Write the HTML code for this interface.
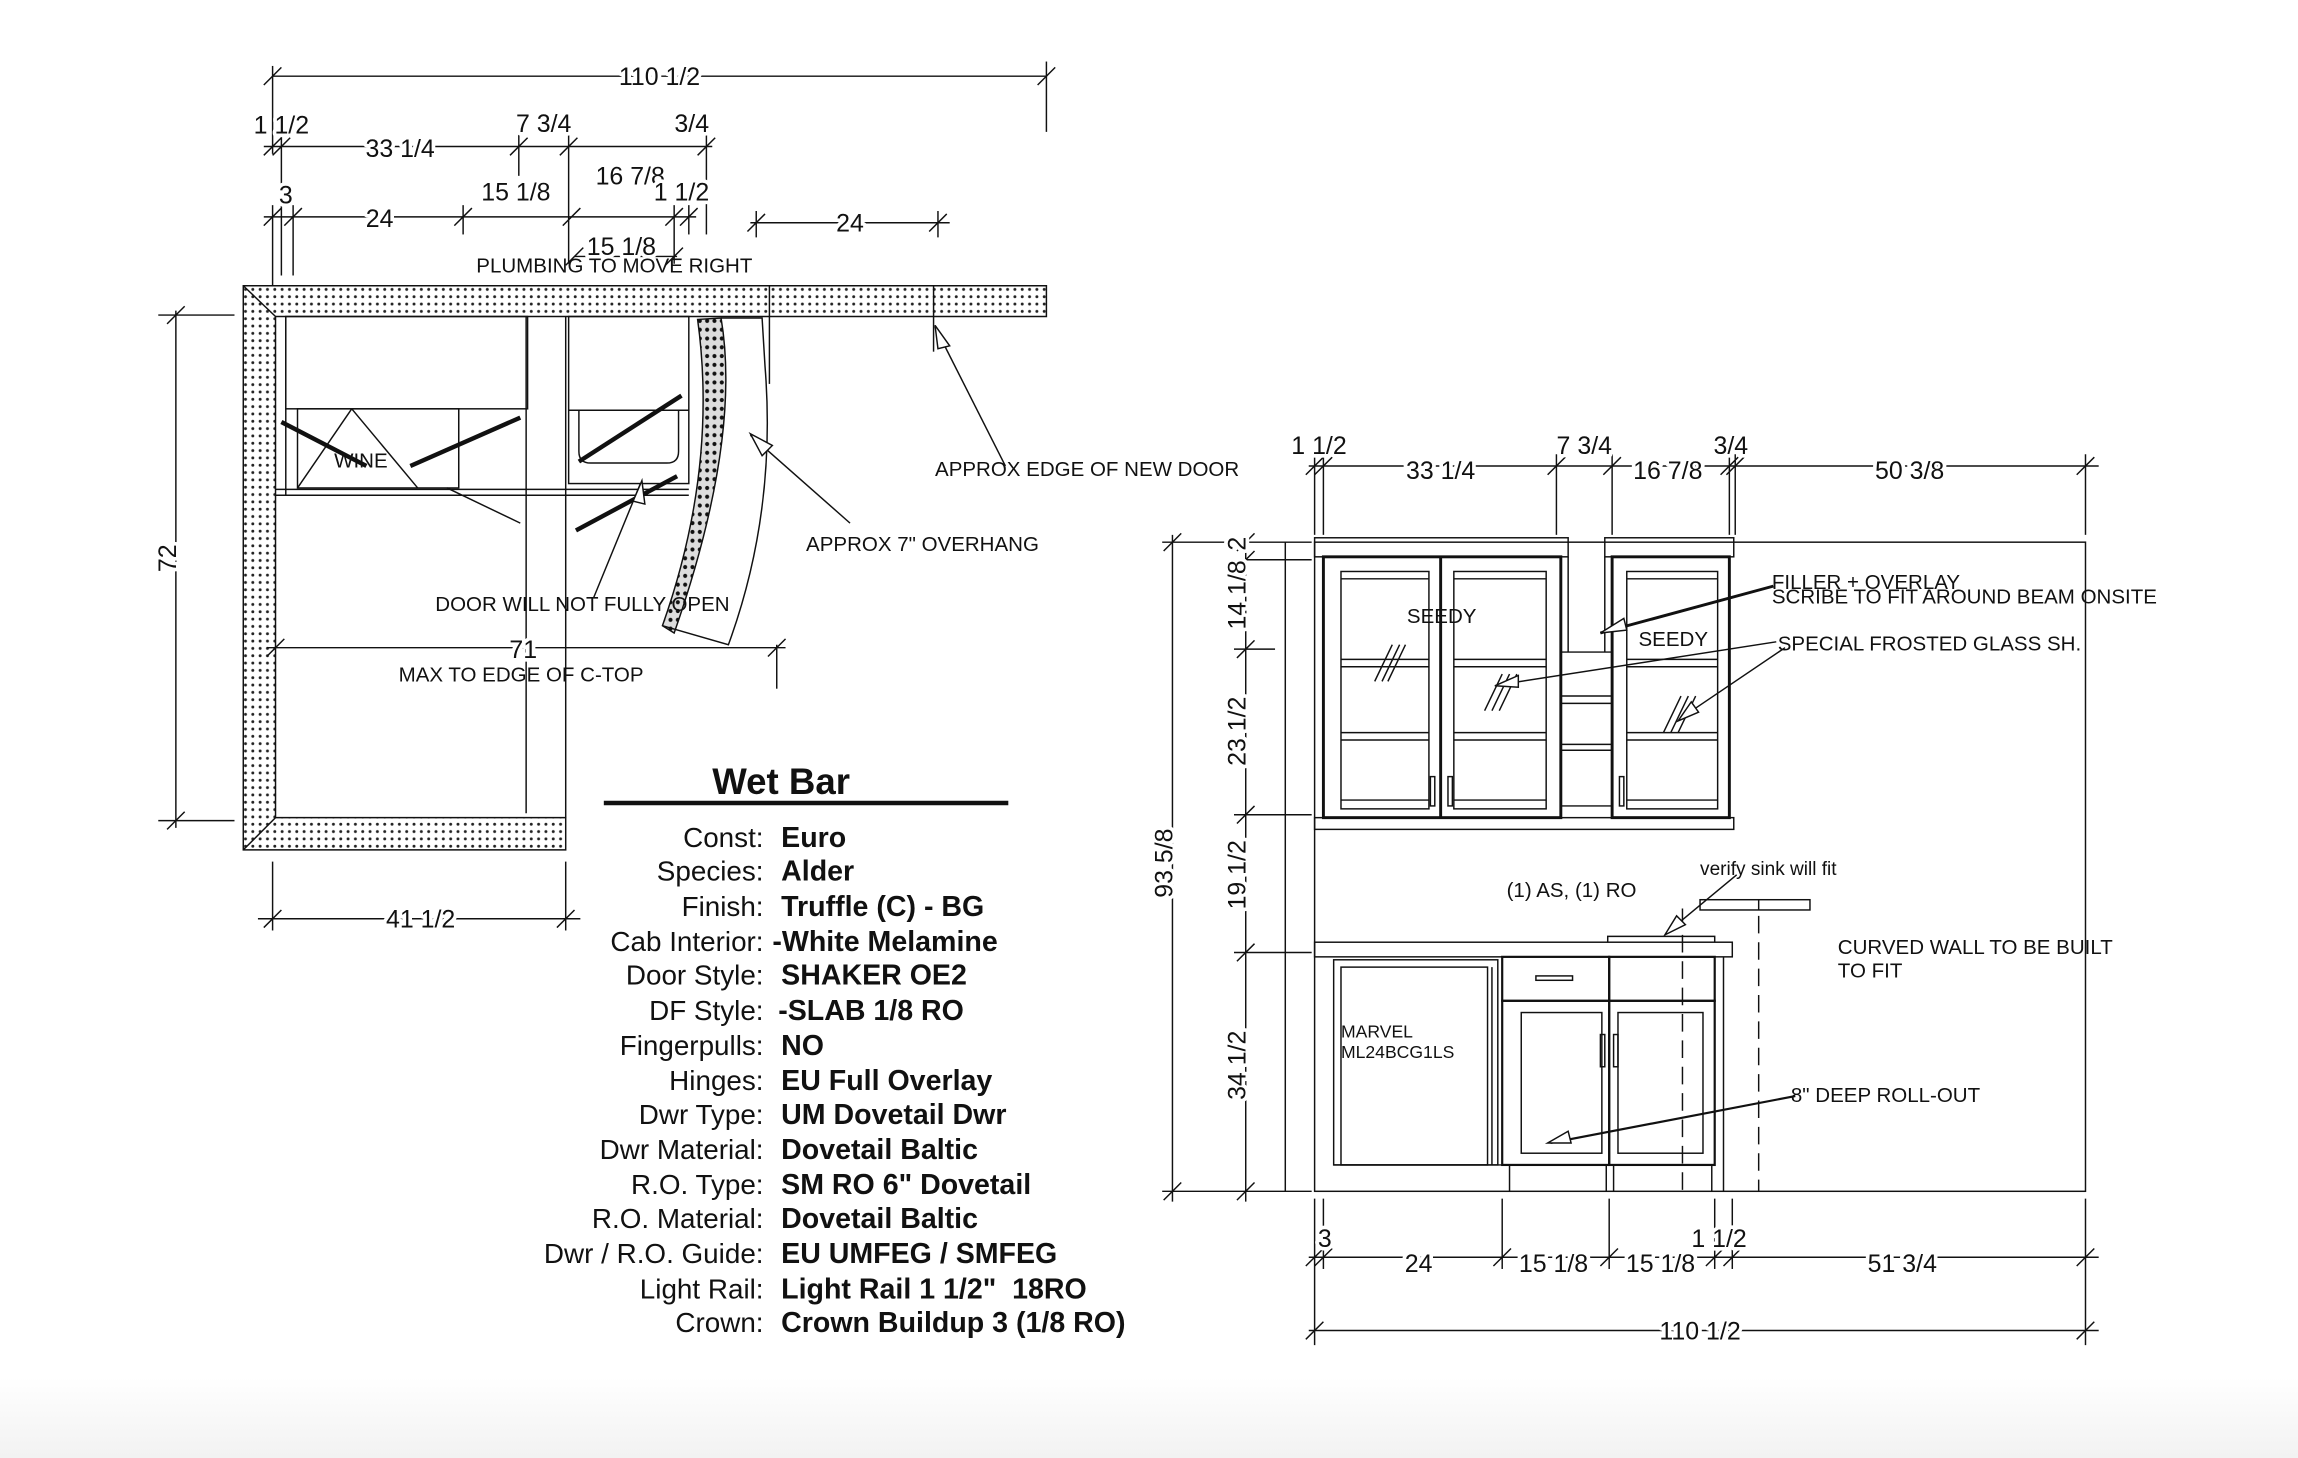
<!DOCTYPE html>
<html><head><meta charset="utf-8"><style>
html,body{margin:0;padding:0;background:#fff;}
svg{display:block;}
text{font-family:"Liberation Sans",Arial,sans-serif;fill:#111;}
.s{font-size:14px;}
.d{font-size:17px;paint-order:stroke;stroke:#fff;stroke-width:5px;stroke-linejoin:round;}
.l{font-size:19px;text-anchor:end;}
.v{font-size:19.5px;font-weight:bold;}
</style></head><body>
<svg width="2298" height="1458" viewBox="0 0 1568 995" preserveAspectRatio="none" xmlns="http://www.w3.org/2000/svg">
<defs>
<pattern id="dots" width="5" height="5" patternUnits="userSpaceOnUse"><rect width="5" height="5" fill="#fff"/><circle cx="2.5" cy="2.5" r="1" fill="#222"/></pattern>
<pattern id="dd" width="5" height="6" patternUnits="userSpaceOnUse"><rect width="5" height="6" fill="#ddd"/><circle cx="2.5" cy="3" r="1.4" fill="#111"/></pattern>
<linearGradient id="bg" x1="0" y1="0" x2="0" y2="1"><stop offset="0" stop-color="#fff"/><stop offset="1" stop-color="#f2f2f2"/></linearGradient>
</defs>
<rect x="0" y="940" width="1568" height="55" fill="url(#bg)"/>
<g stroke="#111" stroke-width="1" fill="none">
<path d="M166,195 H714 V216 H188 V558 H386 V580 H166 Z" fill="url(#dots)"/>
<line x1="166" y1="195" x2="188" y2="216"/><line x1="166" y1="580" x2="188" y2="558"/>
<line x1="195" y1="216" x2="195" y2="338"/>
<rect x="195" y="216" width="165" height="63"/>
<rect x="203" y="279" width="110" height="54"/>
<line x1="313" y1="279" x2="313" y2="333"/>
<line x1="203" y1="333" x2="240" y2="279"/><line x1="240" y1="279" x2="285" y2="333"/>
<line x1="192" y1="288" x2="250" y2="318" stroke-width="3"/>
<line x1="280" y1="318" x2="355" y2="285" stroke-width="3"/>
<line x1="188" y1="338" x2="470" y2="338"/><line x1="188" y1="334" x2="470" y2="334"/>
<line x1="305" y1="333" x2="355" y2="357"/>
<line x1="359" y1="216" x2="359" y2="555"/><line x1="386" y1="216" x2="386" y2="558"/>
<rect x="388" y="216" width="82" height="114"/>
<line x1="388" y1="280" x2="470" y2="280"/>
<path d="M395,280 V308 Q395,316 403,316 H455 Q463,316 463,308 V280"/>
<line x1="395" y1="315" x2="465" y2="270" stroke-width="3"/>
<line x1="393" y1="362" x2="462" y2="325" stroke-width="3"/>
<path d="M476,218 L492,217 Q506,300 460,432 L452,427 Q490,320 476,218 Z" fill="url(#dd)"/>
<path d="M492,217 L520,217 L522,250 Q530,350 497,440 L452,427"/>
<line x1="525" y1="195" x2="525" y2="262"/><line x1="637" y1="195" x2="637" y2="240"/>
<line x1="530" y1="440" x2="530" y2="470"/>
<line x1="580" y1="357" x2="512" y2="297"/><path d="M512,296 L527,304 L520,311 Z" fill="#fff"/>
<line x1="686" y1="318" x2="638" y2="223"/><path d="M638,222 L648,236 L640,238 Z" fill="#fff"/>
<line x1="405" y1="408" x2="437" y2="330"/><path d="M438,328 L440,344 L432,342 Z" fill="#fff"/>
<line x1="186" y1="52" x2="714" y2="52"/><line x1="186" y1="45" x2="186" y2="105"/><line x1="714" y1="42" x2="714" y2="90"/>
<line x1="180" y1="58" x2="192" y2="46"/><line x1="708" y1="58" x2="720" y2="46"/>
<line x1="180" y1="100" x2="486" y2="100"/>
<line x1="192" y1="90" x2="192" y2="188"/><line x1="354" y1="90" x2="354" y2="120"/><line x1="388" y1="90" x2="388" y2="180"/><line x1="482" y1="90" x2="482" y2="160"/>
<line x1="180" y1="106" x2="192" y2="94"/><line x1="186" y1="106" x2="198" y2="94"/><line x1="348" y1="106" x2="360" y2="94"/><line x1="382" y1="106" x2="394" y2="94"/><line x1="476" y1="106" x2="488" y2="94"/>
<line x1="180" y1="148" x2="475" y2="148"/>
<line x1="186" y1="140" x2="186" y2="195"/><line x1="200" y1="140" x2="200" y2="188"/><line x1="316" y1="140" x2="316" y2="160"/><line x1="460" y1="140" x2="460" y2="180"/><line x1="470" y1="140" x2="470" y2="160"/>
<line x1="180" y1="154" x2="192" y2="142"/><line x1="194" y1="154" x2="206" y2="142"/><line x1="310" y1="154" x2="322" y2="142"/><line x1="384" y1="154" x2="396" y2="142"/><line x1="454" y1="154" x2="466" y2="142"/><line x1="464" y1="154" x2="476" y2="142"/>
<line x1="392" y1="175" x2="462" y2="175"/><line x1="386" y1="181" x2="398" y2="169"/><line x1="454" y1="181" x2="466" y2="169"/>
<line x1="512" y1="152" x2="648" y2="152"/><line x1="516" y1="144" x2="516" y2="162"/><line x1="640" y1="144" x2="640" y2="162"/><line x1="510" y1="158" x2="522" y2="146"/><line x1="634" y1="158" x2="646" y2="146"/>
<line x1="120" y1="212" x2="120" y2="565"/><line x1="108" y1="215" x2="160" y2="215"/><line x1="108" y1="560" x2="160" y2="560"/>
<line x1="114" y1="221" x2="126" y2="209"/><line x1="114" y1="566" x2="126" y2="554"/>
<line x1="176" y1="627" x2="396" y2="627"/><line x1="186" y1="588" x2="186" y2="635"/><line x1="386" y1="588" x2="386" y2="635"/>
<line x1="180" y1="633" x2="192" y2="621"/><line x1="380" y1="633" x2="392" y2="621"/>
<line x1="182" y1="442" x2="536" y2="442"/><line x1="182" y1="448" x2="194" y2="436"/><line x1="524" y1="448" x2="536" y2="436"/>
<line x1="412" y1="548" x2="688" y2="548" stroke-width="3"/>
<rect x="897" y="370" width="526" height="443"/>
<rect x="897" y="367" width="173" height="13"/><rect x="1095" y="367" width="88" height="13"/>
<line x1="1070" y1="380" x2="1070" y2="445"/><line x1="1095" y1="380" x2="1095" y2="445"/><line x1="1065" y1="445" x2="1100" y2="445"/>
<rect x="903" y="380" width="162" height="178" stroke-width="2"/>
<rect x="1100" y="380" width="80" height="178" stroke-width="2"/>
<rect x="897" y="558" width="286" height="8"/>
<line x1="983" y1="380" x2="983" y2="558" stroke-width="2"/>
<rect x="915" y="390" width="60" height="162"/><rect x="992" y="390" width="63" height="162"/><rect x="1110" y="390" width="62" height="162"/>
<line x1="915" y1="395" x2="975" y2="395"/><line x1="992" y1="395" x2="1055" y2="395"/><line x1="1110" y1="395" x2="1172" y2="395"/>
<line x1="915" y1="450" x2="975" y2="450"/><line x1="915" y1="455" x2="975" y2="455"/><line x1="992" y1="450" x2="1055" y2="450"/><line x1="992" y1="455" x2="1055" y2="455"/><line x1="1110" y1="450" x2="1172" y2="450"/><line x1="1110" y1="455" x2="1172" y2="455"/>
<line x1="915" y1="500" x2="975" y2="500"/><line x1="915" y1="505" x2="975" y2="505"/><line x1="992" y1="500" x2="1055" y2="500"/><line x1="992" y1="505" x2="1055" y2="505"/><line x1="1110" y1="500" x2="1172" y2="500"/><line x1="1110" y1="505" x2="1172" y2="505"/>
<line x1="915" y1="546" x2="975" y2="546"/><line x1="992" y1="546" x2="1055" y2="546"/><line x1="1110" y1="546" x2="1172" y2="546"/>
<line x1="1065" y1="475" x2="1100" y2="475"/><line x1="1065" y1="480" x2="1100" y2="480"/><line x1="1065" y1="508" x2="1100" y2="508"/><line x1="1065" y1="512" x2="1100" y2="512"/><line x1="1065" y1="550" x2="1100" y2="550"/>
<rect x="976" y="530" width="3" height="20"/><rect x="988" y="530" width="3" height="20"/><rect x="1105" y="530" width="3" height="20"/>
<line x1="938" y1="465" x2="950" y2="440"/><line x1="943" y1="465" x2="955" y2="440"/><line x1="947" y1="465" x2="959" y2="440"/>
<line x1="1013" y1="485" x2="1025" y2="460"/><line x1="1018" y1="485" x2="1030" y2="460"/><line x1="1023" y1="485" x2="1035" y2="460"/>
<line x1="1135" y1="500" x2="1147" y2="475"/><line x1="1140" y1="500" x2="1152" y2="475"/><line x1="1145" y1="500" x2="1157" y2="475"/>
<line x1="1210" y1="400" x2="1092" y2="432" stroke-width="2"/><path d="M1092,432 L1108,422 L1110,430 Z" fill="#fff"/>
<line x1="1212" y1="438" x2="1025" y2="467"/><path d="M1020,468 L1036,461 L1036,469 Z" fill="#fff"/>
<line x1="1218" y1="442" x2="1150" y2="488"/><path d="M1145,492 L1154,479 L1159,486 Z" fill="#fff"/>
<rect x="897" y="643" width="285" height="10"/>
<path d="M1097,643 V639 H1170 V643"/>
<rect x="1160" y="614" width="75" height="7"/><line x1="1200" y1="614" x2="1200" y2="621"/>
<rect x="910" y="655" width="112" height="140"/><rect x="915" y="660" width="100" height="135"/>
<line x1="1018" y1="660" x2="1018" y2="795"/>
<rect x="1025" y="653" width="73" height="30" stroke-width="1.5"/><rect x="1098" y="653" width="72" height="30" stroke-width="1.5"/>
<rect x="1048" y="666" width="25" height="3"/>
<rect x="1025" y="683" width="73" height="112" stroke-width="1.5"/><rect x="1098" y="683" width="72" height="112" stroke-width="1.5"/>
<rect x="1038" y="691" width="55" height="96"/><rect x="1104" y="691" width="58" height="96"/>
<rect x="1092" y="706" width="3" height="22"/><rect x="1101" y="706" width="3" height="22"/>
<line x1="1025" y1="795" x2="1170" y2="795"/><line x1="1030" y1="795" x2="1030" y2="813"/><line x1="1096" y1="795" x2="1096" y2="813"/><line x1="1101" y1="795" x2="1101" y2="813"/><line x1="1168" y1="795" x2="1168" y2="813"/>
<line x1="910" y1="795" x2="1025" y2="795"/><line x1="1176" y1="653" x2="1176" y2="813"/>
<line x1="1148" y1="620" x2="1148" y2="813" stroke-dasharray="12,6"/>
<line x1="1200" y1="625" x2="1200" y2="813" stroke-dasharray="12,6"/>
<line x1="1185" y1="597" x2="1138" y2="636"/><path d="M1136,638 L1144,625 L1150,631 Z" fill="#fff"/>
<line x1="1225" y1="748" x2="1058" y2="780" stroke-width="1.5"/><path d="M1056,780 L1070,772 L1072,780 Z" fill="#fff"/>
<line x1="893" y1="318" x2="1432" y2="318"/>
<line x1="897" y1="310" x2="897" y2="365"/><line x1="903" y1="310" x2="903" y2="365"/><line x1="1062" y1="310" x2="1062" y2="365"/><line x1="1100" y1="310" x2="1100" y2="365"/><line x1="1180" y1="310" x2="1180" y2="365"/><line x1="1184" y1="310" x2="1184" y2="365"/><line x1="1423" y1="310" x2="1423" y2="365"/>
<line x1="891" y1="324" x2="903" y2="312"/><line x1="897" y1="324" x2="909" y2="312"/><line x1="1056" y1="324" x2="1068" y2="312"/><line x1="1094" y1="324" x2="1106" y2="312"/><line x1="1174" y1="324" x2="1186" y2="312"/><line x1="1178" y1="324" x2="1190" y2="312"/><line x1="1417" y1="324" x2="1429" y2="312"/>
<line x1="893" y1="858" x2="1432" y2="858"/>
<line x1="897" y1="818" x2="897" y2="918"/><line x1="903" y1="818" x2="903" y2="866"/><line x1="1025" y1="818" x2="1025" y2="866"/><line x1="1098" y1="818" x2="1098" y2="866"/><line x1="1170" y1="818" x2="1170" y2="866"/><line x1="1182" y1="818" x2="1182" y2="866"/><line x1="1423" y1="818" x2="1423" y2="918"/>
<line x1="891" y1="864" x2="903" y2="852"/><line x1="897" y1="864" x2="909" y2="852"/><line x1="1019" y1="864" x2="1031" y2="852"/><line x1="1092" y1="864" x2="1104" y2="852"/><line x1="1164" y1="864" x2="1176" y2="852"/><line x1="1176" y1="864" x2="1188" y2="852"/><line x1="1417" y1="864" x2="1429" y2="852"/>
<line x1="893" y1="908" x2="1432" y2="908"/><line x1="891" y1="914" x2="903" y2="902"/><line x1="1417" y1="914" x2="1429" y2="902"/>
<line x1="800" y1="365" x2="800" y2="820"/><line x1="793" y1="370" x2="895" y2="370"/><line x1="793" y1="813" x2="895" y2="813"/>
<line x1="794" y1="376" x2="806" y2="364"/><line x1="794" y1="819" x2="806" y2="807"/>
<line x1="850" y1="365" x2="850" y2="820"/>
<line x1="842" y1="382" x2="895" y2="382"/><line x1="842" y1="443" x2="870" y2="443"/><line x1="842" y1="556" x2="895" y2="556"/><line x1="842" y1="650" x2="895" y2="650"/>
<line x1="844" y1="376" x2="856" y2="364"/><line x1="844" y1="388" x2="856" y2="376"/><line x1="844" y1="449" x2="856" y2="437"/><line x1="844" y1="562" x2="856" y2="550"/><line x1="844" y1="656" x2="856" y2="644"/><line x1="844" y1="819" x2="856" y2="807"/>
<line x1="877" y1="370" x2="877" y2="813"/>
</g>
<g fill="#111">
<text class="d" x="450" y="58" text-anchor="middle" font-size="18">110 1/2</text>
<text class="d" x="192" y="91" text-anchor="middle">1 1/2</text>
<text class="d" x="273" y="107" text-anchor="middle">33 1/4</text>
<text class="d" x="371" y="90" text-anchor="middle">7 3/4</text>
<text class="d" x="472" y="90" text-anchor="middle">3/4</text>
<text class="d" x="195" y="139" text-anchor="middle">3</text>
<text class="d" x="259" y="155" text-anchor="middle">24</text>
<text class="d" x="352" y="137" text-anchor="middle">15 1/8</text>
<text class="d" x="430" y="126" text-anchor="middle">16 7/8</text>
<text class="d" x="465" y="137" text-anchor="middle">1 1/2</text>
<text class="d" x="424" y="174" text-anchor="middle">15 1/8</text>
<text class="d" x="580" y="158" text-anchor="middle">24</text>
<text class="s" x="325" y="186">PLUMBING TO MOVE RIGHT</text>
<text class="d" x="126" y="387" text-anchor="middle" transform="rotate(-90 120 387)">72</text>
<text class="d" x="287" y="633" text-anchor="middle">41 1/2</text>
<text class="d" x="357" y="449" text-anchor="middle">71</text>
<text class="s" x="272" y="465">MAX TO EDGE OF C-TOP</text>
<text class="s" x="228" y="319">WINE</text>
<text class="s" x="297" y="417">DOOR WILL NOT FULLY OPEN</text>
<text class="s" x="550" y="376">APPROX 7" OVERHANG</text>
<text class="s" x="638" y="325">APPROX EDGE OF NEW DOOR</text>
<text x="533" y="542" text-anchor="middle" font-size="25" font-weight="bold">Wet Bar</text>
<text class="l" x="521" y="578">Const:</text><text class="v" x="533" y="578">Euro</text>
<text class="l" x="521" y="601">Species:</text><text class="v" x="533" y="601">Alder</text>
<text class="l" x="521" y="625">Finish:</text><text class="v" x="533" y="625">Truffle (C) - BG</text>
<text class="l" x="521" y="649">Cab Interior:</text><text class="v" x="527" y="649">-White Melamine</text>
<text class="l" x="521" y="672">Door Style:</text><text class="v" x="533" y="672">SHAKER OE2</text>
<text class="l" x="521" y="696">DF Style:</text><text class="v" x="531" y="696">-SLAB 1/8 RO</text>
<text class="l" x="521" y="720">Fingerpulls:</text><text class="v" x="533" y="720">NO</text>
<text class="l" x="521" y="744">Hinges:</text><text class="v" x="533" y="744">EU Full Overlay</text>
<text class="l" x="521" y="767">Dwr Type:</text><text class="v" x="533" y="767">UM Dovetail Dwr</text>
<text class="l" x="521" y="791">Dwr Material:</text><text class="v" x="533" y="791">Dovetail Baltic</text>
<text class="l" x="521" y="815">R.O. Type:</text><text class="v" x="533" y="815">SM RO 6" Dovetail</text>
<text class="l" x="521" y="838">R.O. Material:</text><text class="v" x="533" y="838">Dovetail Baltic</text>
<text class="l" x="521" y="862">Dwr / R.O. Guide:</text><text class="v" x="533" y="862">EU UMFEG / SMFEG</text>
<text class="l" x="521" y="886">Light Rail:</text><text class="v" x="533" y="886" xml:space="preserve">Light Rail 1 1/2"  18RO</text>
<text class="l" x="521" y="909">Crown:</text><text class="v" x="533" y="909">Crown Buildup 3 (1/8 RO)</text>
<text class="d" x="900" y="310" text-anchor="middle">1 1/2</text>
<text class="d" x="983" y="327" text-anchor="middle">33 1/4</text>
<text class="d" x="1081" y="310" text-anchor="middle">7 3/4</text>
<text class="d" x="1138" y="327" text-anchor="middle">16 7/8</text>
<text class="d" x="1181" y="310" text-anchor="middle">3/4</text>
<text class="d" x="1303" y="327" text-anchor="middle">50 3/8</text>
<text class="d" x="904" y="851" text-anchor="middle">3</text>
<text class="d" x="968" y="868" text-anchor="middle">24</text>
<text class="d" x="1060" y="868" text-anchor="middle">15 1/8</text>
<text class="d" x="1133" y="868" text-anchor="middle">15 1/8</text>
<text class="d" x="1173" y="851" text-anchor="middle">1 1/2</text>
<text class="d" x="1298" y="868" text-anchor="middle">51 3/4</text>
<text class="d" x="1160" y="914" text-anchor="middle">110 1/2</text>
<text class="d" x="806" y="595" text-anchor="middle" transform="rotate(-90 800 595)">93 5/8</text>
<text class="d" x="856" y="377" text-anchor="middle" transform="rotate(-90 850 377)">2</text>
<text class="d" x="856" y="412" text-anchor="middle" transform="rotate(-90 850 412)">14 1/8</text>
<text class="d" x="856" y="505" text-anchor="middle" transform="rotate(-90 850 505)">23 1/2</text>
<text class="d" x="856" y="603" text-anchor="middle" transform="rotate(-90 850 603)">19 1/2</text>
<text class="d" x="856" y="733" text-anchor="middle" transform="rotate(-90 850 733)">34 1/2</text>
<text class="s" x="960" y="425">SEEDY</text>
<text class="s" x="1118" y="441">SEEDY</text>
<text class="s" x="1209" y="402">FILLER + OVERLAY</text>
<text class="s" x="1209" y="412">SCRIBE TO FIT AROUND BEAM ONSITE</text>
<text class="s" x="1213" y="444">SPECIAL FROSTED GLASS SH.</text>
<text class="s" x="1028" y="612">(1) AS, (1) RO</text>
<text x="1160" y="597" font-size="13">verify sink will fit</text>
<text class="s" x="1254" y="651">CURVED WALL TO BE BUILT</text>
<text class="s" x="1254" y="667">TO FIT</text>
<text x="915" y="708" font-size="12">MARVEL</text>
<text x="915" y="722" font-size="12">ML24BCG1LS</text>
<text class="s" x="1222" y="752">8" DEEP ROLL-OUT</text>
</g>
</svg>
</body></html>
